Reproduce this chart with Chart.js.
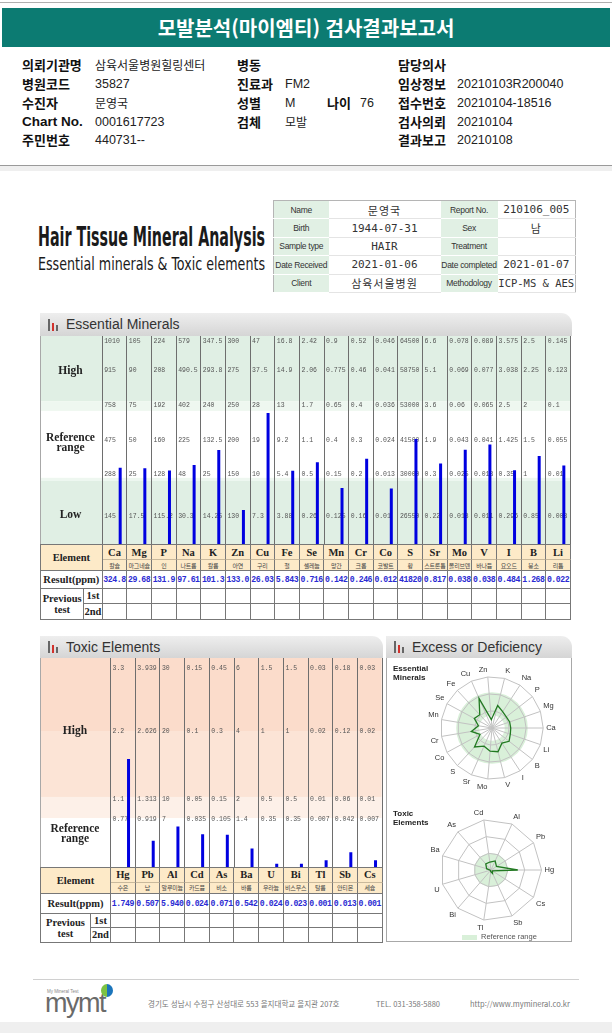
<!DOCTYPE html>
<html lang="ko">
<head>
<meta charset="utf-8">
<title>모발분석(마이엠티) 검사결과보고서</title>
<script src="https://cdn.jsdelivr.net/npm/chart.js@4.4.1/dist/chart.umd.min.js"></script>
<style>
body { margin: 0; background: #fff; }
#page { position: relative; width: 612px; height: 1033px; overflow: hidden; font-family: "Liberation Sans", Arial, sans-serif; color: #222; }
.a { position: absolute; white-space: nowrap; }
.lb { font: bold 13px "Noto Sans CJK KR"; line-height: 18px; height: 18px; color: #111; }
.lbl { font: bold 13.5px "Liberation Sans"; line-height: 18px; color: #111; }
.vl { font: 12px "Noto Sans CJK KR"; line-height: 18px; height: 18px; color: #222; }
.num { font: 12.5px "Liberation Sans"; line-height: 18px; color: #222; }
#info { border-collapse: collapse; border: 1px solid #b5b5b5; width: 302px; table-layout: fixed; }
#info td { height: 17.4px; padding: 0; text-align: center; border-bottom: 1px solid #e4e4e4; overflow: hidden; white-space: nowrap; }
#info .k { background: #e1f0e4; font: 8.5px "Liberation Sans"; color: #333; letter-spacing: -0.3px; border-bottom-color: #fff; }
#info .v { font: 11px "Noto Sans CJK KR"; color: #333; letter-spacing: 1px; }
#info .m { font: 11px "DejaVu Sans Mono"; color: #333; letter-spacing: 0; }
.ph { position: absolute; height: 23px; background: linear-gradient(#eeeeee, #d5d5d5); border-radius: 0 11px 0 0; font: 14px "Liberation Sans"; color: #333; line-height: 23px; padding-left: 26px; box-sizing: border-box; }
.ph i { position: absolute; bottom: 5px; width: 2px; }
.rl { position: absolute; font: bold 11.5px "Liberation Serif"; text-align: center; line-height: 10px; color: #222; }
.tbl { position: absolute; display: grid; box-sizing: border-box; border-left: 1px solid #777; border-top: 1px solid #777; }
.tbl .c { border-right: 1px solid #777; border-bottom: 1px solid #777; box-sizing: border-box; display: flex; align-items: center; justify-content: center; overflow: visible; white-space: nowrap; }
.tbl .pe { background: #fdeac8; }
.tbl .hd { font: bold 10.5px "Liberation Serif"; color: #222; text-align: center; line-height: 11px; }
.tbl .sym { font: bold 10.5px "Liberation Serif"; border-bottom-color: #c9b99c; }
.tbl .kn { font: 6px "Noto Sans CJK KR"; color: #444; letter-spacing: -0.2px; }
.tbl .res { font: bold 8.2px "Liberation Mono"; color: #2b2bd3; letter-spacing: -0.45px; }
.box { position: absolute; box-sizing: border-box; border: 1px solid #a8a8a8; border-top: none; }
.rt { position: absolute; font: bold 8px "Liberation Sans"; line-height: 9px; color: #222; }
.ft { position: absolute; font: 7.5px "Noto Sans CJK KR"; color: #777; white-space: nowrap; }
</style>
</head>
<body>
<div id="page">
  <!-- 상단 헤더 -->
  <div class="a" style="left:0;top:2px;width:612px;height:1px;background:#b0b0b0"></div>
  <div class="a" style="left:2px;top:8px;width:608px;height:39px;background:#0c7b72;color:#fff;font:bold 20px 'Noto Sans CJK KR';text-align:center;line-height:39px">모발분석(마이엠티) 검사결과보고서</div>

  <div class="a lb" style="left:22px;top:56px">의뢰기관명</div>
  <div class="a vl" style="left:95px;top:56px">삼육서울병원힐링센터</div>
  <div class="a lb" style="left:237px;top:56px">병동</div>
  <div class="a lb" style="left:398px;top:56px">담당의사</div>

  <div class="a lb" style="left:22px;top:75px">병원코드</div>
  <div class="a num" style="left:95px;top:75px">35827</div>
  <div class="a lb" style="left:237px;top:75px">진료과</div>
  <div class="a num" style="left:285px;top:75px">FM2</div>
  <div class="a lb" style="left:398px;top:75px">임상정보</div>
  <div class="a num" style="left:457px;top:75px">20210103R200040</div>

  <div class="a lb" style="left:22px;top:94px">수진자</div>
  <div class="a vl" style="left:95px;top:94px">문영국</div>
  <div class="a lb" style="left:237px;top:94px">성별</div>
  <div class="a num" style="left:285px;top:94px">M</div>
  <div class="a lb" style="left:327px;top:94px">나이</div>
  <div class="a num" style="left:360px;top:94px">76</div>
  <div class="a lb" style="left:398px;top:94px">접수번호</div>
  <div class="a num" style="left:457px;top:94px">20210104-18516</div>

  <div class="a lbl" style="left:22px;top:113px">Chart No.</div>
  <div class="a num" style="left:95px;top:113px">0001617723</div>
  <div class="a lb" style="left:237px;top:113px">검체</div>
  <div class="a vl" style="left:285px;top:113px">모발</div>
  <div class="a lb" style="left:398px;top:113px">검사의뢰</div>
  <div class="a num" style="left:457px;top:113px">20210104</div>

  <div class="a lb" style="left:22px;top:131px">주민번호</div>
  <div class="a num" style="left:95px;top:131px">440731--</div>
  <div class="a lb" style="left:398px;top:131px">결과보고</div>
  <div class="a num" style="left:457px;top:131px">20210108</div>

  <div class="a" style="left:0;top:165px;width:612px;height:1px;background:#9a9a9a"></div>
  <div class="a" style="left:0;top:166px;width:612px;height:5px;background:#efefef"></div>

  <!-- 제목 -->
  <div id="htTitle" class="a" style="left:38px;top:222px;font:bold 26px 'Liberation Sans Narrow','DejaVu Sans Condensed',sans-serif;color:#1a1a1a;transform-origin:0 0">Hair Tissue Mineral Analysis</div>
  <div id="htSub" class="a" style="left:38px;top:254px;font:17px 'Liberation Sans Narrow','DejaVu Sans Condensed',sans-serif;color:#1a1a1a;transform-origin:0 0">Essential minerals &amp; Toxic elements</div>

  <table id="info" class="a" style="left:273px;top:200px">
    <colgroup><col style="width:55px"><col style="width:112px"><col style="width:57px"><col style="width:78px"></colgroup>
    <tr><td class="k">Name</td><td class="v">문영국</td><td class="k">Report No.</td><td class="v m">210106_005</td></tr>
    <tr><td class="k">Birth</td><td class="v m">1944-07-31</td><td class="k">Sex</td><td class="v">남</td></tr>
    <tr><td class="k">Sample type</td><td class="v m">HAIR</td><td class="k">Treatment</td><td class="v"></td></tr>
    <tr><td class="k">Date Received</td><td class="v m">2021-01-06</td><td class="k">Date completed</td><td class="v m">2021-01-07</td></tr>
    <tr><td class="k">Client</td><td class="v">삼육서울병원</td><td class="k">Methodology</td><td class="v m" style="font-size:10.5px">ICP-MS &amp; AES</td></tr>
  </table>

  <!-- Essential Minerals -->
  <div class="ph" style="left:40px;top:313px;width:532px">
    <i style="left:8px;height:12px;background:#666"></i><i style="left:12px;height:8px;background:#d2322d"></i><i style="left:16px;height:6px;background:#666"></i>Essential Minerals</div>
  <canvas id="essChart" class="a" width="532" height="208" style="left:40px;top:336px"></canvas>
  <div class="rl" style="left:40px;width:61px;top:365px">High</div>
  <div class="rl" style="left:40px;width:61px;top:432px">Reference<br>range</div>
  <div class="rl" style="left:40px;width:61px;top:509px">Low</div>
  <div id="essTable" class="tbl" style="left:40px;top:544px;grid-template-columns:43.3px 18.4px repeat(19, 24.65px);grid-template-rows:15px 11px 17.5px 15.5px 16px"></div>

  <!-- Toxic Elements -->
  <div class="ph" style="left:40px;top:636px;width:343px;height:22px;line-height:22px">
    <i style="left:8px;height:12px;background:#666"></i><i style="left:12px;height:8px;background:#d2322d"></i><i style="left:16px;height:6px;background:#666"></i>Toxic Elements</div>
  <canvas id="toxChart" class="a" width="343" height="209" style="left:40px;top:658px"></canvas>
  <div class="rl" style="left:40px;width:70px;top:725px">High</div>
  <div class="rl" style="left:40px;width:70px;top:823px">Reference<br>range</div>
  <div id="toxTable" class="tbl" style="left:40px;top:867px;grid-template-columns:50px 20px repeat(11, 24.7px);grid-template-rows:14.7px 11.6px 20px 13.4px 15px"></div>

  <!-- Excess or Deficiency -->
  <div class="ph" style="left:386px;top:636px;width:186px;height:22px;line-height:22px">
    <i style="left:8px;height:12px;background:#666"></i><i style="left:12px;height:8px;background:#d2322d"></i><i style="left:16px;height:6px;background:#666"></i>Excess or Deficiency</div>
  <div class="box" style="left:386px;top:658px;width:186px;height:284px"></div>
  <canvas id="essRadar" class="a" width="150" height="140" style="left:417px;top:658px"></canvas>
  <canvas id="toxRadar" class="a" width="150" height="140" style="left:418px;top:800px"></canvas>
  <div class="rt" style="left:393px;top:664px">Essential<br>Minerals</div>
  <div class="rt" style="left:393px;top:809px">Toxic<br>Elements</div>
  <div class="a" style="left:462px;top:935px;width:15px;height:5px;background:#d9f0d9"></div>
  <div class="a" style="left:481px;top:932px;font:7.5px 'Liberation Sans';color:#555">Reference range</div>

  <!-- 하단 -->
  <div class="a" style="left:33px;top:979px;width:546px;height:1px;background:#d0d0d0"></div>
  <div class="a" style="left:47px;top:989px;font:4.5px 'Liberation Sans';color:#888">My Mineral Test</div>
  <div class="a" style="left:45px;top:991px;font:27px 'Liberation Sans';color:#6a6a6a;letter-spacing:-1.5px;line-height:24px">mymt</div>
  <div class="a" style="left:101px;top:984px;width:12px;height:13px;border-radius:50%;background:linear-gradient(90deg,#7cc242 50%,#1b75bb 50%)"></div>
  <div class="ft" style="left:148px;top:998px">경기도 성남시 수정구 산성대로 553 을지대학교 을지관 207호</div>
  <div class="ft" style="left:376px;top:998px">TEL. 031-358-5880</div>
  <div class="ft" style="left:470px;top:998px">http://www.mymineral.co.kr</div>
  <div class="a" style="left:0;top:1022px;width:612px;height:11px;background:#efefef"></div>
</div>

<script>
// 필수 미네랄
const essentialElements = ['Ca','Mg','P','Na','K','Zn','Cu','Fe','Se','Mn','Cr','Co','S','Sr','Mo','V','I','B','Li'];
const essentialNames = ['칼슘','마그네슘','인','나트륨','칼륨','아연','구리','철','셀레늄','망간','크롬','코발트','황','스트론튬','몰리브덴','바나듐','요오드','붕소','리튬'];
const essentialResults = [324.8, 29.68, 131.9, 97.61, 101.3, 133.0, 26.03, 5.843, 0.716, 0.142, 0.246, 0.012, 41820, 0.817, 0.038, 0.038, 0.484, 1.268, 0.022];
// 기준값 (위에서 아래로)
const essTop     = [1010, 105, 224, 579, 347.5, 300, 47, 16.8, 2.42, 0.9, 0.52, 0.046, 64500, 6.6, 0.078, 0.089, 3.575, 2.5, 0.145];
const essHighMid = [915, 90, 208, 490.5, 293.8, 275, 37.5, 14.9, 2.06, 0.775, 0.46, 0.041, 58750, 5.1, 0.069, 0.077, 3.038, 2.25, 0.123];
const essHigh    = [758, 75, 192, 402, 240, 250, 28, 13, 1.7, 0.65, 0.4, 0.036, 53000, 3.6, 0.06, 0.065, 2.5, 2, 0.1];
const essMid     = [475, 50, 160, 225, 132.5, 200, 19, 9.2, 1.1, 0.4, 0.3, 0.024, 41500, 1.9, 0.043, 0.041, 1.425, 1.5, 0.055];
const essLow     = [288, 25, 128, 48, 25, 150, 10, 5.4, 0.5, 0.15, 0.2, 0.013, 30000, 0.3, 0.025, 0.018, 0.35, 1, 0.01];
const essLowMid  = [145, 17.5, 115.2, 30.3, 14.25, 130, 7.3, 3.88, 0.26, 0.125, 0.16, 0.01, 26550, 0.22, 0.018, 0.011, 0.296, 0.85, 0.008];
const essLevels  = [0, 0.8, 2, 3, 4, 5, 6];

// 유해 중금속
const toxicElements = ['Hg','Pb','Al','Cd','As','Ba','U','Bi','Tl','Sb','Cs'];
const toxicNames = ['수은','납','알루미늄','카드뮴','비소','바륨','우라늄','비스무스','탈륨','안티몬','세슘'];
const toxicResults = [1.749, 0.507, 5.940, 0.024, 0.071, 0.542, 0.024, 0.023, 0.001, 0.013, 0.001];
const toxTop   = [3.3, 3.939, 30, 0.15, 0.45, 6, 1.5, 1.5, 0.03, 0.18, 0.03];
const toxHigh  = [2.2, 2.626, 20, 0.1, 0.3, 4, 1, 1, 0.02, 0.12, 0.02];
const toxLimit = [1.1, 1.313, 10, 0.05, 0.15, 2, 0.5, 0.5, 0.01, 0.06, 0.01];
const toxLow   = [0.77, 0.919, 7, 0.035, 0.105, 1.4, 0.35, 0.35, 0.007, 0.042, 0.007];
const toxLevels = [0, 0.7, 1, 2, 3];

// 값 -> 구간 단위 (piecewise)
function toLevel(v, ticks, levels) {
	for (let k = 1; k < ticks.length; k++) {
		if (v <= ticks[k]) {
			return levels[k - 1] + (v - ticks[k - 1]) / (ticks[k] - ticks[k - 1]) * (levels[k] - levels[k - 1]);
		}
	}
	return levels[levels.length - 1];
}

const essBarLevels = essentialResults.map(function(v, i) {
	return toLevel(v, [0, essLowMid[i], essLow[i], essMid[i], essHigh[i], essHighMid[i], essTop[i]], essLevels);
});
const toxBarLevels = toxicResults.map(function(v, i) {
	return toLevel(v, [0, toxLow[i], toxLimit[i], toxHigh[i], toxTop[i]], toxLevels);
});

function fmtEss(v) {
	if (v >= 10000) return String(Math.round(v));
	if (v < 1) return v.toFixed(3);
	return v.toPrecision(4);
}
function fmtTox(v) { return v.toFixed(3); }

// 배경 구간
const bandPlugin = {
	id: 'bands',
	beforeDraw: function(chart, args, opts) {
		const ctx = chart.ctx, y = chart.scales.y, right = chart.chartArea.right;
		ctx.save();
		opts.list.forEach(function(b) {
			const top = b.to === null ? 0 : y.getPixelForValue(b.to);
			const bot = y.getPixelForValue(b.from);
			ctx.fillStyle = b.color;
			ctx.fillRect(0, top, right, bot - top);
		});
		ctx.restore();
	}
};

// 세로 구분선 + 원소별 기준값
const columnPlugin = {
	id: 'columns',
	beforeDatasetsDraw: function(chart, args, opts) {
		const ctx = chart.ctx, a = chart.chartArea, y = chart.scales.y;
		const n = chart.data.labels.length, w = (a.right - a.left) / n;
		ctx.save();
		ctx.strokeStyle = '#6e6e6e';
		ctx.lineWidth = 1;
		ctx.beginPath();
		for (let i = 0; i <= n; i++) {
			const px = Math.round(a.left + i * w) + 0.5;
			ctx.moveTo(px, 0);
			ctx.lineTo(px, chart.height);
		}
		ctx.stroke();
		ctx.strokeStyle = '#a8a8a8';
		ctx.beginPath();
		ctx.moveTo(0.5, 0);
		ctx.lineTo(0.5, chart.height);
		ctx.stroke();
		ctx.fillStyle = '#555';
		ctx.font = '6.5px "Liberation Mono"';
		ctx.textBaseline = 'middle';
		opts.rows.forEach(function(row) {
			const py = Math.max(y.getPixelForValue(row.level), a.top + 5);
			row.values.forEach(function(v, i) {
				ctx.fillText(String(v), a.left + i * w + 2.5, py);
			});
		});
		ctx.restore();
	}
};

function barChart(id, labels, levels, maxLevel, padding, bands, rows) {
	const canvas = document.getElementById(id);
	// 막대 두께 3px: 빈 데이터셋 옆 칸의 폭에 대한 비율
	const slot = (canvas.width - padding.left - padding.right) / labels.length / 2;
	return new Chart(canvas, {
		type: 'bar',
		data: {
			labels: labels,
			datasets: [
				{ data: labels.map(function() { return null; }) },
				{ data: levels, backgroundColor: '#0000e0', barPercentage: 3 / slot }
			]
		},
		options: {
			responsive: false,
			animation: false,
			layout: { padding: padding },
			datasets: { bar: { categoryPercentage: 1, barPercentage: 1 } },
			plugins: {
				legend: { display: false },
				tooltip: { enabled: false },
				bands: { list: bands },
				columns: { rows: rows }
			},
			scales: {
				x: { display: false },
				y: { display: false, min: 0, max: maxLevel }
			}
		},
		plugins: [bandPlugin, columnPlugin]
	});
}

barChart('essChart', essentialElements, essBarLevels, 6,
	{ left: 61.7, right: 2, top: 0, bottom: 0 },
	[
		{ from: 4.12, to: null, color: '#e0efe4' },
		{ from: 3.84, to: 4.12, color: '#eef7f0' },
		{ from: 1.82, to: 1.91, color: '#eef7f0' },
		{ from: 0, to: 1.82, color: '#e0efe4' }
	],
	[
		{ level: essLevels[6], values: essTop },
		{ level: essLevels[5], values: essHighMid },
		{ level: essLevels[4], values: essHigh },
		{ level: essLevels[3], values: essMid },
		{ level: essLevels[2], values: essLow },
		{ level: essLevels[1], values: essLowMid }
	]);

barChart('toxChart', toxicElements, toxBarLevels, 3,
	{ left: 70, right: 1.3, top: 5, bottom: 0 },
	[
		{ from: 2, to: null, color: '#fbdccb' },
		{ from: 1.03, to: 2, color: '#fce4d6' },
		{ from: 0.72, to: 1.03, color: '#fdf0e8' }
	],
	[
		{ level: toxLevels[4], values: toxTop },
		{ level: toxLevels[3], values: toxHigh },
		{ level: toxLevels[2], values: toxLimit },
		{ level: toxLevels[1], values: toxLow }
	]);

// 방사형 차트 참고범위
function radarBand(from, to) {
	return {
		id: 'radarBand',
		beforeDraw: function(chart) {
			const r = chart.scales.r, ctx = chart.ctx;
			ctx.save();
			ctx.fillStyle = '#d9f0d9';
			ctx.beginPath();
			ctx.arc(r.xCenter, r.yCenter, r.getDistanceFromCenterForValue(to), 0, Math.PI * 2);
			if (from > 0) {
				ctx.moveTo(r.xCenter + r.getDistanceFromCenterForValue(from), r.yCenter);
				ctx.arc(r.xCenter, r.yCenter, r.getDistanceFromCenterForValue(from), 0, Math.PI * 2, true);
			}
			ctx.fill();
			ctx.restore();
		}
	};
}

// 3시 방향부터 반시계 방향으로 배치
function radarOrder(arr) { return [arr[0]].concat(arr.slice(1).reverse()); }

function radarChart(id, labels, values, maxLevel, step, pad, band) {
	return new Chart(document.getElementById(id), {
		type: 'radar',
		data: {
			labels: radarOrder(labels),
			datasets: [{
				data: radarOrder(values),
				borderColor: '#227a22',
				borderWidth: 1.3,
				pointRadius: 0,
				fill: false
			}]
		},
		options: {
			responsive: false,
			animation: false,
			layout: { padding: pad },
			plugins: { legend: { display: false }, tooltip: { enabled: false } },
			scales: {
				r: {
					min: 0,
					max: maxLevel,
					startAngle: 90,
					ticks: { display: false, stepSize: step },
					grid: { color: '#c2c2c2' },
					angleLines: { color: '#c2c2c2' },
					pointLabels: { font: { size: 7.5, family: 'Liberation Sans' }, color: '#333', padding: 3 }
				}
			}
		},
		plugins: [band]
	});
}

radarChart('essRadar', essentialElements, essBarLevels, 6, 2, 7, radarBand(1.5, 4.2));
radarChart('toxRadar', toxicElements, toxBarLevels, 3, 1, 8, radarBand(0, 1));

// 표
function buildTable(id, symbols, names, results, fmt) {
	let h = '<div class="c hd pe" style="grid-column:1/3;grid-row:1/3">Element</div>';
	symbols.forEach(function(s, i) {
		h += '<div class="c sym pe" style="grid-column:' + (i + 3) + ';grid-row:1">' + s + '</div>';
		h += '<div class="c kn pe" style="grid-column:' + (i + 3) + ';grid-row:2">' + names[i] + '</div>';
		h += '<div class="c res" style="grid-column:' + (i + 3) + ';grid-row:3">' + fmt(results[i]) + '</div>';
		h += '<div class="c" style="grid-column:' + (i + 3) + ';grid-row:4"></div>';
		h += '<div class="c" style="grid-column:' + (i + 3) + ';grid-row:5"></div>';
	});
	h += '<div class="c hd" style="grid-column:1/3;grid-row:3">Result(ppm)</div>';
	h += '<div class="c hd" style="grid-column:1;grid-row:4/6">Previous<br>test</div>';
	h += '<div class="c hd" style="grid-column:2;grid-row:4">1st</div>';
	h += '<div class="c hd" style="grid-column:2;grid-row:5">2nd</div>';
	document.getElementById(id).innerHTML = h;
}
buildTable('essTable', essentialElements, essentialNames, essentialResults, fmtEss);
buildTable('toxTable', toxicElements, toxicNames, toxicResults, fmtTox);

// 제목 폭 맞추기
function fitWidth(id, w) {
	const el = document.getElementById(id);
	el.style.transform = 'scaleX(' + (w / el.getBoundingClientRect().width) + ')';
}
fitWidth('htTitle', 227);
fitWidth('htSub', 227);
</script>
</body>
</html>
